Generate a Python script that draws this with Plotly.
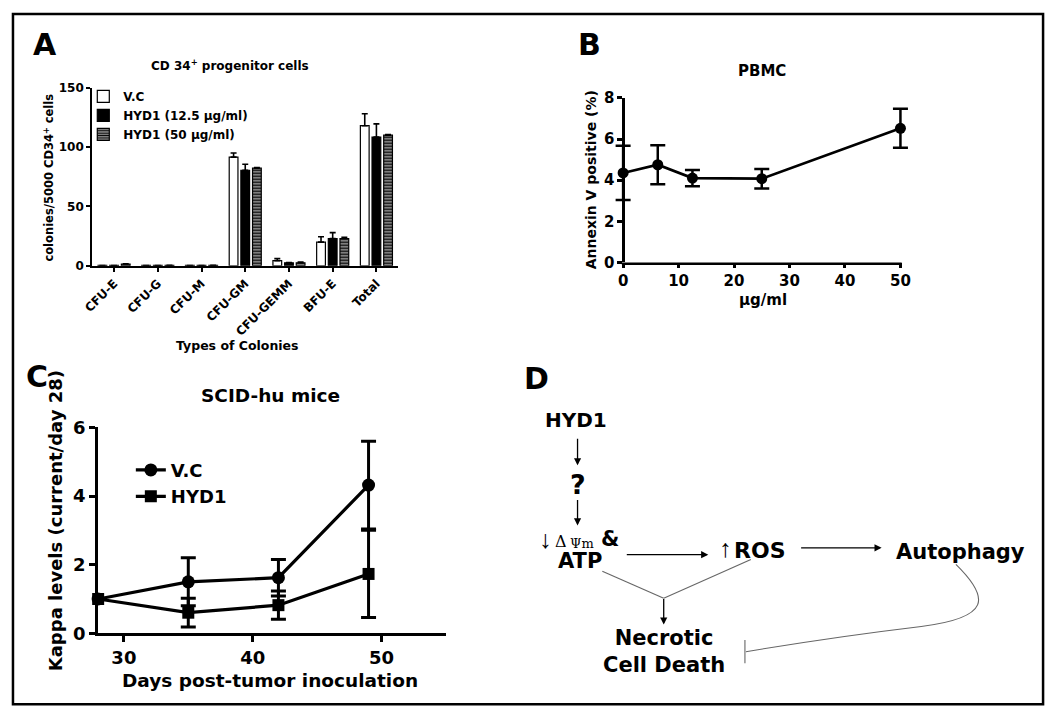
import plotly.graph_objects as go

# ---------------- data ----------------
# Panel A: CD34+ progenitor colonies
categories = ["CFU-E", "CFU-G", "CFU-M", "CFU-GM", "CFU-GEMM", "BFU-E", "Total"]
vc_vals = [0.3, 0.3, 0.3, 91.5, 4.3, 20.0, 118.0]
vc_err = [0, 0, 0, 3.5, 1.8, 4.5, 10.0]
h12_vals = [0.3, 0.3, 0.3, 80.5, 2.5, 23.0, 108.5]
h12_err = [0, 0, 0, 5.0, 0.3, 5.0, 11.0]
h50_vals = [1.5, 0.5, 0.5, 82.2, 2.6, 23.0, 110.0]
h50_err = [0.3, 0, 0, 0.5, 0.5, 1.0, 0.5]
a_yticks = [0, 50, 100, 150]

# Panel B: PBMC Annexin V
dose = [0, 6.25, 12.5, 25, 50]
annexin = [4.35, 4.75, 4.1, 4.07, 6.52]
annexin_err = [1.32, 0.95, 0.4, 0.47, 0.95]
b_xticks = [0, 10, 20, 30, 40, 50]
b_yticks = [0, 2, 4, 6, 8]

# Panel C: SCID-hu mice kappa levels
days = [28, 35, 42, 49]
vc_kappa = [1.0, 1.5, 1.62, 4.32]
vc_kappa_err = [0, 0.7, 0.53, 1.28]
hyd_kappa = [1.0, 0.6, 0.82, 1.73]
hyd_kappa_err = [0, 0.42, 0.41, 1.27]
c_xticks = [30, 40, 50]
c_yticks = [0, 2, 4, 6]

# ---------------- helpers ----------------
W, H = 1050, 719
FONT = "DejaVu Sans"


def px(x):
    return x / W


def py(y):
    return 1 - y / H


def f(size, weight="bold", color="black", family=FONT):
    return dict(family=family, size=size, color=color, weight=weight)


fig = go.Figure()

# ---------------- Panel A ----------------
bar_err = dict(type="data", symmetric=False, color="black", thickness=1.6, width=3)
fig.add_trace(go.Bar(x=categories, y=vc_vals, name="V.C",
                     marker=dict(color="white", line=dict(color="black", width=1.2)),
                     error_y=dict(bar_err, array=vc_err, arrayminus=[0] * len(vc_err)),
                     xaxis="x", yaxis="y", legend="legend", legendgroup="a1"))
fig.add_trace(go.Bar(x=categories, y=h12_vals, name="HYD1 (12.5 μg/ml)",
                     marker=dict(color="black", line=dict(color="black", width=1.2)),
                     error_y=dict(bar_err, array=h12_err, arrayminus=[0] * len(h12_err)),
                     xaxis="x", yaxis="y", legend="legend", legendgroup="a2"))
fig.add_trace(go.Bar(x=categories, y=h50_vals, name="HYD1 (50 μg/ml)",
                     marker=dict(color="#8a8a8a", line=dict(color="black", width=1.2),
                                 pattern=dict(shape="-", fgcolor="black", bgcolor="#a8a8a8", size=3,
                                              solidity=0.5, fillmode="replace")),
                     error_y=dict(bar_err, array=h50_err, arrayminus=[0] * len(h50_err)),
                     xaxis="x", yaxis="y", legend="legend", legendgroup="a3"))

# ---------------- Panel B ----------------
fig.add_trace(go.Scatter(x=dose, y=annexin, mode="lines+markers",
                         line=dict(color="black", width=2.7), marker=dict(size=11, color="black"),
                         error_y=dict(type="data", array=annexin_err, color="black", thickness=2.5, width=7.5),
                         xaxis="x2", yaxis="y2", showlegend=False, cliponaxis=False))

# ---------------- Panel C ----------------
fig.add_trace(go.Scatter(x=days, y=vc_kappa, mode="lines+markers", name="V.C",
                         line=dict(color="black", width=3.2), marker=dict(size=13, color="black", symbol="circle"),
                         error_y=dict(type="data", array=vc_kappa_err, color="black", thickness=3, width=7.5),
                         xaxis="x3", yaxis="y3", legend="legend2", cliponaxis=False))
fig.add_trace(go.Scatter(x=days, y=hyd_kappa, mode="lines+markers", name="HYD1",
                         line=dict(color="black", width=3.2), marker=dict(size=12, color="black", symbol="square"),
                         error_y=dict(type="data", array=hyd_kappa_err, color="black", thickness=3, width=7.5),
                         xaxis="x3", yaxis="y3", legend="legend2", cliponaxis=False))


def axis(domain, anchor, lw, tlen, tsize, **kw):
    d = dict(domain=domain, anchor=anchor, showline=True, linecolor="black", linewidth=lw,
             ticks="outside", ticklen=tlen, tickwidth=lw, tickcolor="black",
             tickfont=f(tsize), showgrid=False, zeroline=False, fixedrange=True)
    d.update(kw)
    return d


# panel B: x range padded so end error caps are not clipped; x axis line drawn as a shape
B_X0, B_X1, B_PAD = 619, 899, 14
b_unit = 50 / (B_X1 - B_X0)

fig.update_layout(
    width=W, height=H, margin=dict(l=0, r=0, t=0, b=0, pad=0),
    paper_bgcolor="white", plot_bgcolor="rgba(0,0,0,0)",
    font=f(12),
    barmode="group", bargap=0.2, bargroupgap=0.25,
    xaxis=axis([px(83), px(392)], "y", 2, 4, 12, type="category", tickangle=-45),
    yaxis=axis([py(262.5), py(79)], "x", 2, 4, 12, range=[0, 150], tickvals=a_yticks),
    xaxis2=axis([px(B_X0 - B_PAD), px(B_X1 + B_PAD)], "y2", 2.5, 5, 15,
                range=[-B_PAD * b_unit, 50 + B_PAD * b_unit], tickvals=b_xticks, showline=False),
    yaxis2=axis([py(259), py(89.5)], "free", 2.5, 5, 15, range=[0, 8], tickvals=b_yticks,
                position=px(B_X0)),
    xaxis3=axis([px(89), px(440)], "y3", 3, 6, 18, range=[28, 55], tickvals=c_xticks),
    yaxis3=axis([py(641), py(429)], "x3", 3, 6, 18, range=[0, 6], tickvals=c_yticks),
    legend=dict(x=px(74), y=py(73), xanchor="left", yanchor="top", bgcolor="rgba(0,0,0,0)",
                font=f(12), tracegroupgap=5, traceorder="normal"),
    legend2=dict(x=px(122), y=py(454), xanchor="left", yanchor="top", bgcolor="rgba(0,0,0,0)",
                 font=f(18), tracegroupgap=0, traceorder="normal"),
    showlegend=True,
)

ann = []


def text(x, y, s, size, angle=0, weight="bold", family=FONT):
    ann.append(dict(x=px(x), y=py(y), xref="paper", yref="paper", text=s, showarrow=False,
                    font=f(size, weight=weight, family=family), textangle=angle,
                    xanchor="center", yanchor="middle", align="center"))


def arrow(x0, y0, x1, y1):
    ann.append(dict(x=px(x1), y=py(y1), xref="paper", yref="paper", text="", showarrow=True,
                    ax=x0 - x1, ay=y0 - y1, axref="pixel", ayref="pixel",
                    arrowhead=2, arrowsize=1.1, arrowwidth=1.3, arrowcolor="black", standoff=0))


# panel letters
text(35, 34, "A", 30)
text(585, 34, "B", 30)
text(27, 376, "C", 30)
text(532, 379, "D", 30)

# Panel A texts
text(222, 56, "CD 34<sup>+</sup> progenitor cells", 12)
text(40, 172, "colonies/5000 CD34<sup>+</sup> cells", 11.5, angle=-90)
text(230, 345, "Types of Colonies", 12.5)

# Panel B texts
text(759, 62, "PBMC", 15)
text(587, 174, "Annexin V positive (%)", 14, angle=-90)
text(760, 298, "μg/ml", 15)

# Panel C texts
text(263, 396, "SCID-hu mice", 18.5)
text(46, 525, "Kappa levels (current/day 28)", 18, angle=-90)
text(262, 690, "Days post-tumor inoculation", 18.5)

# Panel D diagram
text(571, 421, "HYD1", 20)
arrow(573, 440, 573, 468)
text(573, 488, "?", 27)
arrow(573, 503, 573, 530)
text(541, 544, "↓", 25, weight="normal", family="Liberation Serif")
text(556.5, 546, "Δ", 16, weight="normal", family="DejaVu Serif")
text(578, 549, "Ψm", 13, weight="normal", family="DejaVu Serif")
text(606, 544, "&", 21)
text(575, 567, "ATP", 21)
arrow(622, 560, 705, 560)
text(722, 554, "↑", 25, weight="normal", family="Liberation Serif")
text(757, 556, "ROS", 22)
arrow(798, 553, 880, 553)
text(960, 557, "Autophagy", 21)
text(660, 660, "Necrotic<br>Cell Death", 21)
arrow(660, 605, 660, 632)
fig.update_layout(annotations=ann)

shapes = []
gray = dict(color="#666666", width=1.1)
# panel B x axis line from 0 to 50
shapes.append(dict(type="line", xref="paper", yref="paper", x0=px(B_X0) - 1.25 / W, y0=py(259) - 1.25 / H,
                   x1=px(B_X1) + 1.25 / W, y1=py(259) - 1.25 / H, line=dict(color="black", width=2.5)))
# diagram connectors
shapes.append(dict(type="line", xref="paper", yref="paper", x0=px(598), y0=py(577), x1=px(660), y1=py(605), line=gray))
shapes.append(dict(type="line", xref="paper", yref="paper", x0=px(748), y0=py(565), x1=px(660), y1=py(605), line=gray))
shapes.append(dict(type="line", xref="paper", yref="paper", x0=px(742), y0=py(648), x1=px(742), y1=py(672), line=gray))


def pt(x, y):
    return f"{px(x):.5f},{py(y):.5f}"


curve = (f"M{pt(955,570)} C{pt(990,605)} {pt(990,625)} {pt(920,634)} "
         f"Q{pt(830,645)} {pt(743,660)}")
shapes.append(dict(type="path", xref="paper", yref="paper", path=curve, line=gray))
# outer frame
shapes.append(dict(type="rect", xref="paper", yref="paper", x0=px(3), y0=py(3), x1=px(1043), y1=py(714),
                   line=dict(color="black", width=2.5)))
fig.update_layout(shapes=shapes)

fig.write_html(
    "out.html", config={"displayModeBar": False},
    post_script=("document.documentElement.style.margin='0px';"
                 "document.body.style.margin='0px';document.body.style.padding='0px';"
                 "document.body.style.overflow='hidden';window.scrollTo(0,0);"))
